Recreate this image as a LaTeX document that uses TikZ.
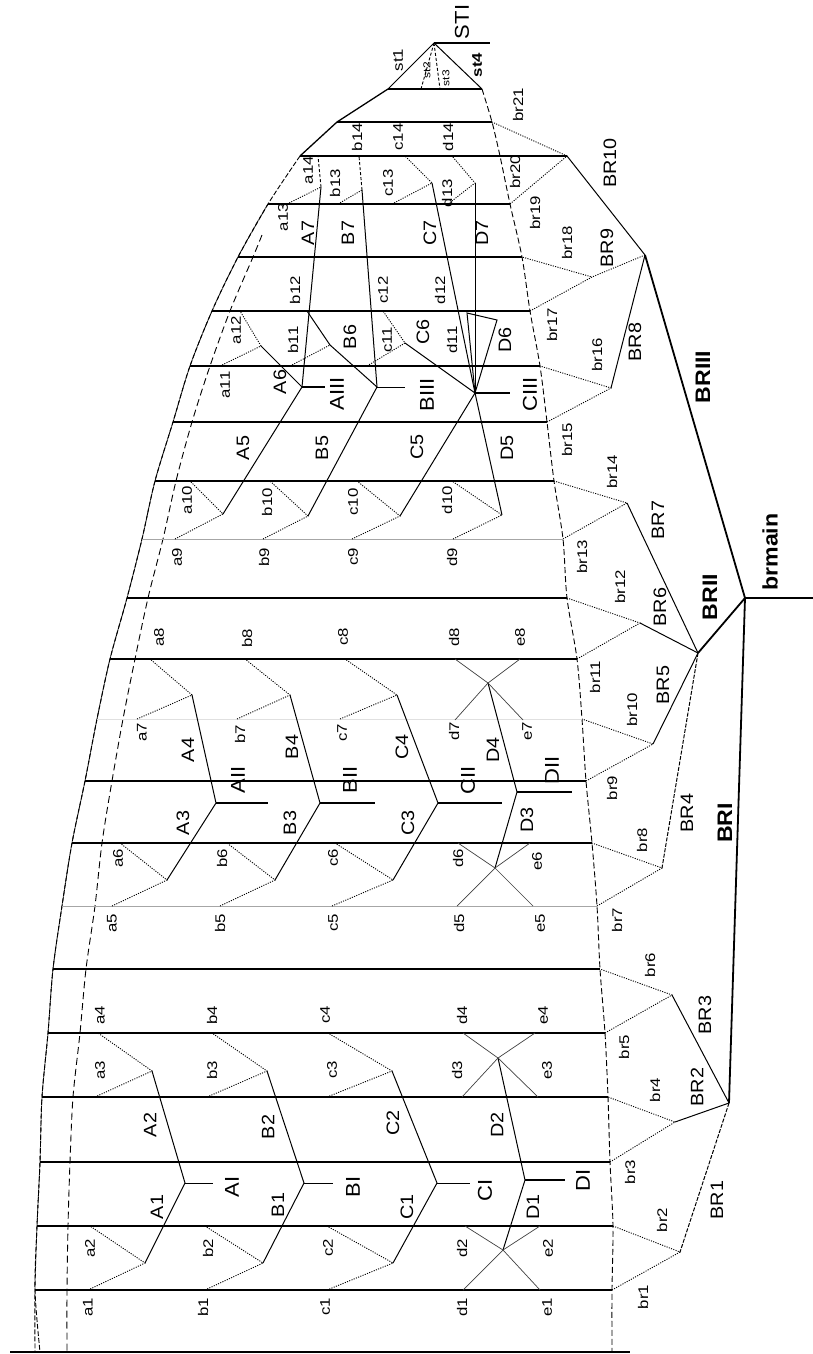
\documentclass[tikz,border=0pt]{standalone}
\usepackage{fontspec}
\setmainfont{Liberation Sans}
\usepackage{graphicx}
\newcommand\labS[3]{\node[sl] (#1) at (#2) {\scalebox{1.2}[1]{#3}};}
\newcommand\labT[3]{\node[tl] (#1) at (#2) {\scalebox{1.2}[1]{#3}};}
\newcommand\labM[3]{\node[ml] (#1) at (#2) {\scalebox{1.1}[1]{#3}};}
\newcommand\labR[3]{\node[rl] (#1) at (#2) {\scalebox{1.1}[1]{#3}};}
\newcommand\labB[3]{\node[bl] (#1) at (#2) {\scalebox{1.1}[1]{#3}};}
\begin{document}
\begin{tikzpicture}[x=1pt,y=-1pt,
  row/.style={line width=1.2pt},
  rowlight/.style={line width=0.9pt,black!35},
  rowfaint/.style={line width=0.8pt,black!12},
  limb/.style={line width=1pt},
  heavy/.style={line width=1.8pt},
  twig/.style={line width=0.9pt,dash pattern=on 1.1pt off 1.3pt},
  twigdash/.style={line width=0.9pt,dash pattern=on 3pt off 2pt},
  cross/.style={line width=0.7pt,black!75},
  stem/.style={line width=2.6pt},
  thinstem/.style={line width=1pt},
  outline/.style={line width=0.9pt,dash pattern=on 5pt off 2pt},
  inline/.style={line width=0.9pt,dash pattern=on 7pt off 4pt},
  rline/.style={line width=0.9pt,dash pattern=on 6pt off 3pt},
  sl/.style={rotate=90,inner sep=0pt,font=\fontsize{14}{14}\selectfont},
  tl/.style={rotate=90,inner sep=0pt,font=\fontsize{10}{10}\selectfont},
  ml/.style={rotate=90,inner sep=0pt,font=\fontsize{18}{18}\selectfont},
  rl/.style={rotate=90,inner sep=0pt,font=\fontsize{20}{20}\selectfont},
  bl/.style={rotate=90,inner sep=0pt,font=\bfseries\fontsize{21}{21}\selectfont},
]
\useasboundingbox (0,0) rectangle (813,1354);
% ---------- row end points ----------
\coordinate (Bl) at (10,1352); \coordinate (Br) at (630,1352);
\coordinate (L2) at (35,1290);  \coordinate (R2) at (612,1290);
\coordinate (L3) at (37,1226);  \coordinate (R3) at (613,1226);
\coordinate (L4) at (40,1162);  \coordinate (R4) at (610,1162);
\coordinate (L5) at (42,1097);  \coordinate (R5) at (608,1097);
\coordinate (L6) at (48,1033);  \coordinate (R6) at (605,1033);
\coordinate (L7) at (53,969);   \coordinate (R7) at (600,969);
\coordinate (L8) at (62,906);   \coordinate (R8) at (597,906);
\coordinate (L9) at (72,843);   \coordinate (R9) at (592,843);
\coordinate (L10) at (85,781);  \coordinate (R10) at (586,781);
\coordinate (L11) at (97,719);  \coordinate (R11) at (582,719);
\coordinate (L12) at (110,659); \coordinate (R12) at (577,659);
\coordinate (L13) at (127,598); \coordinate (R13) at (567,598);
\coordinate (L14) at (142,539); \coordinate (R14) at (563,539);
\coordinate (L15) at (155,481); \coordinate (R15) at (554,481);
\coordinate (L16) at (173,422); \coordinate (R16) at (547,422);
\coordinate (L17) at (190,366); \coordinate (R17) at (540,366);
\coordinate (L18) at (212,311); \coordinate (R18) at (530,311);
\coordinate (L19) at (238,257); \coordinate (R19) at (522,257);
\coordinate (L20) at (268,204); \coordinate (R20) at (510,204);
\coordinate (L21) at (300,156); \coordinate (R21) at (500,156);
\coordinate (L22) at (337,122); \coordinate (R22) at (492,122);
\coordinate (L23) at (388,89);  \coordinate (R23) at (482,89);
% ---------- outlines ----------
\draw[outline] plot[smooth] coordinates {(L21) (L20) (L19) (L18) (L17) (L16) (L15) (L14) (L13) (L12) (L11) (L10) (L9) (L8) (L7) (L6) (L5) (L4) (L3) (L2) (35,1352)};
\draw[outline,xshift=5pt] plot[smooth] coordinates {(L20) (L19) (L18) (L17) (L16) (L15) (L14) (L13) (L12) (L11) (L10) (L9) (L8) (L7) (L6) (L5) (L4) (L3) (L2) (35,1352)};
\draw[inline] plot[smooth] coordinates {(262,235) (253,257) (230,311) (210,366) (192,422) (176,481) (163,539) (148,598) (135,659) (123,719) (112,781) (102,843) (95,906) (86,969) (80,1033) (73,1097) (70,1162) (68,1226) (67,1290) (67,1352)};
\draw[rline] plot[smooth] coordinates {(R23) (R22) (R21) (R20) (R19) (R18) (R17) (R16) (R15) (R14) (R13) (R12) (R11) (R10) (R9) (R8) (R7) (R6) (R5) (R4) (R3) (R2) (612,1352)};
% ---------- rows ----------
\draw[row] (Bl) -- (Br);
\foreach \k in {2,3,4,5,6,7,9,10,12,13,15,16,17,18,19,20,22,23} \draw[row] (L\k) -- (R\k);
\draw[rowlight] (L8) -- (R8);
\draw[rowlight] (L14) -- (R14);
\draw[rowfaint] (L11) -- (R11);
% ---------- st ----------
\coordinate (T) at (434,43); \coordinate (STe) at (490,43);
\coordinate (st2p) at (421,89); \coordinate (st3p) at (440,89);
\draw[line width=1.3pt] (L21) -- (L22) -- (L23);
\draw[limb] (L23) -- (T);
\draw[twigdash] (T) -- (st2p);
\draw[twigdash] (T) -- (st3p);
\draw[limb] (T) -- (R23);
\draw[stem] (T) -- (STe);
% ---------- group I ----------
\coordinate (AIj) at (185,1183); \coordinate (AIe) at (213,1183);
\coordinate (A1n) at (145,1263); \coordinate (A2n) at (152,1071);
\coordinate (a1p) at (88,1290); \coordinate (a2p) at (90,1226);
\coordinate (a3p) at (95,1097); \coordinate (a4p) at (98,1033);
\coordinate (BIj) at (304,1183); \coordinate (BIe) at (333,1183);
\coordinate (B1n) at (263,1263); \coordinate (B2n) at (267,1071);
\coordinate (b1p) at (205,1290); \coordinate (b2p) at (205,1226);
\coordinate (b3p) at (207,1097); \coordinate (b4p) at (212,1033);
\coordinate (CIj) at (437,1183); \coordinate (CIe) at (470,1183);
\coordinate (C1n) at (393,1263); \coordinate (C2n) at (392,1071);
\coordinate (c1p) at (327,1290); \coordinate (c2p) at (327,1226);
\coordinate (c3p) at (327,1097); \coordinate (c4p) at (328,1033);
\coordinate (DIj) at (525,1180); \coordinate (DIe) at (565,1180);
\coordinate (D1n) at (503,1250); \coordinate (D2n) at (498,1058);
\coordinate (d1p) at (463,1290); \coordinate (e1p) at (540,1290);
\coordinate (d2p) at (465,1226); \coordinate (e2p) at (540,1226);
\coordinate (d3p) at (462,1097); \coordinate (e3p) at (538,1097);
\coordinate (d4p) at (463,1033); \coordinate (e4p) at (535,1033);
\draw[limb] (A1n) -- (AIj) -- (A2n); \draw[thinstem] (AIj) -- (AIe);
\draw[twig] (a1p) -- (A1n) -- (a2p); \draw[twig] (a3p) -- (A2n) -- (a4p);
\draw[limb] (B1n) -- (BIj) -- (B2n); \draw[thinstem] (BIj) -- (BIe);
\draw[twig] (b1p) -- (B1n) -- (b2p); \draw[twig] (b3p) -- (B2n) -- (b4p);
\draw[limb] (C1n) -- (CIj) -- (C2n); \draw[thinstem] (CIj) -- (CIe);
\draw[twig] (c1p) -- (C1n) -- (c2p); \draw[twig] (c3p) -- (C2n) -- (c4p);
\draw[limb] (D1n) -- (DIj) -- (D2n); \draw[stem] (DIj) -- (DIe);
\draw[cross] (d1p) -- (D1n) -- (e2p); \draw[cross] (e1p) -- (D1n) -- (d2p);
\draw[cross] (d3p) -- (D2n) -- (e4p); \draw[cross] (e3p) -- (D2n) -- (d4p);
% ---------- group II ----------
\coordinate (AIIj) at (216,803); \coordinate (AIIe) at (268,803);
\coordinate (A3n) at (167,880); \coordinate (A4n) at (192,695);
\coordinate (a5p) at (112,906); \coordinate (a6p) at (120,843);
\coordinate (a7p) at (137,719); \coordinate (a8p) at (150,659);
\coordinate (BIIj) at (320,803); \coordinate (BIIe) at (375,803);
\coordinate (B3n) at (275,880); \coordinate (B4n) at (290,695);
\coordinate (b5p) at (220,906); \coordinate (b6p) at (227,843);
\coordinate (b7p) at (237,719); \coordinate (b8p) at (245,659);
\coordinate (CIIj) at (438,803); \coordinate (CIIe) at (502,803);
\coordinate (C3n) at (393,880); \coordinate (C4n) at (397,695);
\coordinate (c5p) at (332,906); \coordinate (c6p) at (335,843);
\coordinate (c7p) at (340,719); \coordinate (c8p) at (345,659);
\coordinate (DIIj) at (517,792); \coordinate (DIIe) at (572,792);
\coordinate (D3n) at (495,868); \coordinate (D4n) at (488,683);
\coordinate (d5p) at (457,906); \coordinate (e5p) at (533,906);
\coordinate (d6p) at (458,843); \coordinate (e6p) at (530,843);
\coordinate (d7p) at (455,720); \coordinate (e7p) at (523,720);
\coordinate (d8p) at (455,659); \coordinate (e8p) at (520,659);
\draw[limb] (A3n) -- (AIIj) -- (A4n); \draw[stem] (AIIj) -- (AIIe);
\draw[twig] (a5p) -- (A3n) -- (a6p); \draw[twig] (a7p) -- (A4n) -- (a8p);
\draw[limb] (B3n) -- (BIIj) -- (B4n); \draw[stem] (BIIj) -- (BIIe);
\draw[twig] (b5p) -- (B3n) -- (b6p); \draw[twig] (b7p) -- (B4n) -- (b8p);
\draw[limb] (C3n) -- (CIIj) -- (C4n); \draw[stem] (CIIj) -- (CIIe);
\draw[twig] (c5p) -- (C3n) -- (c6p); \draw[twig] (c7p) -- (C4n) -- (c8p);
\draw[limb] (D3n) -- (DIIj) -- (D4n); \draw[stem] (DIIj) -- (DIIe);
\draw[cross] (d5p) -- (D3n) -- (e6p); \draw[cross] (e5p) -- (D3n) -- (d6p);
\draw[cross] (d7p) -- (D4n) -- (e8p); \draw[cross] (e7p) -- (D4n) -- (d8p);
% ---------- group III ----------
\coordinate (AIIIj) at (302,387); \coordinate (AIIIe) at (325,387);
\coordinate (A5n) at (223,514); \coordinate (A6n) at (261,346); \coordinate (A7n) at (321,187);
\coordinate (a9p) at (175,539); \coordinate (a10p) at (190,481);
\coordinate (a11p) at (220,366); \coordinate (a12p) at (240,311);
\coordinate (a13p) at (287,204); \coordinate (a14p) at (318,156);
\coordinate (BIIIj) at (377,387); \coordinate (BIIIe) at (405,387);
\coordinate (B5n) at (308,516); \coordinate (B6n) at (330,345); \coordinate (B7n) at (362,190);
\coordinate (b9p) at (263,539); \coordinate (b10p) at (270,481);
\coordinate (b11p) at (290,366); \coordinate (b12p) at (307,311);
\coordinate (b13p) at (338,204); \coordinate (b14p) at (359,156);
\coordinate (CIIIj) at (475,393); \coordinate (CIIIe) at (510,393);
\coordinate (C5n) at (400,516); \coordinate (C6n) at (405,343); \coordinate (C7n) at (432,183);
\coordinate (c9p) at (352,539); \coordinate (c10p) at (357,481);
\coordinate (c11p) at (367,366); \coordinate (c12p) at (383,311);
\coordinate (c13p) at (392,204); \coordinate (c14p) at (405,156);
\coordinate (D5n) at (502,515); \coordinate (D6a) at (467,313); \coordinate (D6b) at (497,320);
\coordinate (D7n) at (475,183);
\coordinate (d9p) at (453,539); \coordinate (d10p) at (452,481);
\coordinate (d13p) at (448,204); \coordinate (d14p) at (452,156);
\draw[limb] (A5n) -- (AIIIj) -- (A6n); \draw[limb] (AIIIj) -- (A7n); \draw[stem] (AIIIj) -- (AIIIe);
\draw[twig] (a9p) -- (A5n) -- (a10p); \draw[twig] (a11p) -- (A6n) -- (a12p);
\draw[twig] (a13p) -- (A7n); \draw[twigdash] (A7n) -- (a14p);
\draw[limb] (B5n) -- (BIIIj) -- (B6n) -- (b12p); \draw[limb] (BIIIj) -- (B7n); \draw[thinstem] (BIIIj) -- (BIIIe);
\draw[twig] (b9p) -- (B5n) -- (b10p); \draw[twig] (b11p) -- (B6n);
\draw[twig] (b13p) -- (B7n); \draw[twigdash] (B7n) -- (b14p);
\draw[limb] (C5n) -- (CIIIj) -- (C6n); \draw[limb] (CIIIj) -- (C7n); \draw[stem] (CIIIj) -- (CIIIe);
\draw[twig] (c9p) -- (C5n) -- (c10p); \draw[twig] (c11p) -- (C6n) -- (c12p);
\draw[twig] (c13p) -- (C7n) -- (c14p);
\draw[limb] (D5n) -- (CIIIj) -- (D6a) -- (D6b) -- (CIIIj); \draw[limb] (CIIIj) -- (D7n);
\draw[twig] (d9p) -- (D5n) -- (d10p); \draw[twig] (d13p) -- (D7n) -- (d14p);
% ---------- br structure ----------
\coordinate (BM) at (745,598); \coordinate (BMe) at (813,598);
\coordinate (BRIIj) at (698,653); \coordinate (BRIj) at (729,1103); \coordinate (BR9j) at (645,255);
\coordinate (BR1n) at (680,1252); \coordinate (BR2n) at (675,1122); \coordinate (BR3n) at (672,995);
\coordinate (BR4n) at (662,868); \coordinate (BR5n) at (653,744); \coordinate (BR6n) at (640,623);
\coordinate (BR7n) at (627,503); \coordinate (BR8n) at (611,388); \coordinate (BR9n) at (592,277);
\coordinate (BR10n) at (567,156);
\draw[row] (L21) -- (BR10n);
\draw[stem] (BM) -- (BMe);
\draw[heavy] (BM) -- (BR9j);
\draw[heavy] (BM) -- (BRIIj);
\draw[heavy] (BM) -- (BRIj);
\draw[limb,dash pattern=on 4pt off 1.5pt] (BRIj) -- (BR1n);
\draw[limb] (BRIj) -- (BR2n);
\draw[limb] (BRIj) -- (BR3n);
\draw[limb,dash pattern=on 4pt off 1.5pt] (BRIIj) -- (BR4n);
\draw[limb] (BRIIj) -- (BR5n);
\draw[limb] (BRIIj) -- (BR6n);
\draw[limb] (BRIIj) -- (BR7n);
\draw[limb] (BR9j) -- (BR8n);
\draw[twig] (BR9j) -- (BR9n);
\draw[limb] (BR9j) -- (BR10n);
\draw[twig] (R2) -- (BR1n) -- (R3);
\draw[twig] (R4) -- (BR2n) -- (R5);
\draw[twig] (R6) -- (BR3n) -- (R7);
\draw[twig] (R8) -- (BR4n) -- (R9);
\draw[twig] (R10) -- (BR5n) -- (R11);
\draw[twig] (R12) -- (BR6n) -- (R13);
\draw[twig] (R14) -- (BR7n) -- (R15);
\draw[twig] (R16) -- (BR8n) -- (R17);
\draw[twig] (R18) -- (BR9n) -- (R19);
\draw[twig] (R20) -- (BR10n) -- (R22);
% ---------- labels: small ----------
\labS{la1}{88,1307}{a1} \labS{lb1}{203,1307}{b1} \labS{lc1}{325,1307}{c1} \labS{ld1}{462,1307}{d1} \labS{le1}{547,1307}{e1}
\labS{la2}{90,1248}{a2} \labS{lb2}{208,1248}{b2} \labS{lc2}{328,1248}{c2} \labS{ld2}{462,1248}{d2} \labS{le2}{548,1248}{e2}
\labS{la3}{100,1070}{a3} \labS{lb3}{212,1070}{b3} \labS{lc3}{332,1070}{c3} \labS{ld3}{457,1070}{d3} \labS{le3}{547,1070}{e3}
\labS{la4}{100,1015}{a4} \labS{lb4}{212,1015}{b4} \labS{lc4}{325,1015}{c4} \labS{ld4}{462,1015}{d4} \labS{le4}{543,1015}{e4}
\labS{la5}{112,923}{a5} \labS{lb5}{220,923}{b5} \labS{lc5}{333,923}{c5} \labS{ld5}{459,923}{d5} \labS{le5}{540,923}{e5}
\labS{la6}{118,858}{a6} \labS{lb6}{222,858}{b6} \labS{lc6}{333,858}{c6} \labS{ld6}{458,858}{d6} \labS{le6}{537,861}{e6}
\labS{la7}{142,732}{a7} \labS{lb7}{240,734}{b7} \labS{lc7}{342,733}{c7} \labS{ld7}{454,731}{d7} \labS{le7}{527,731}{e7}
\labS{la8}{159,637}{a8} \labS{lb8}{247,638}{b8} \labS{lc8}{343,637}{c8} \labS{ld8}{454,637}{d8} \labS{le8}{520,637}{e8}
\labS{la9}{177,557}{a9} \labS{lb9}{264,557}{b9} \labS{lc9}{353,557}{c9} \labS{ld9}{452,557}{d9}
\labS{la10}{187,500}{a10} \labS{lb10}{267,502}{b10} \labS{lc10}{353,502}{c10} \labS{ld10}{447,500}{d10}
\labS{la11}{225,385}{a11} \labS{lb11}{293,340}{b11} \labS{lc11}{387,340}{c11} \labS{ld11}{452,340}{d11}
\labS{la12}{236,330}{a12} \labS{lb12}{295,290}{b12} \labS{lc12}{383,290}{c12} \labS{ld12}{440,290}{d12}
\labS{la13}{283,217}{a13} \labS{lb13}{335,183}{b13} \labS{lc13}{388,183}{c13} \labS{ld13}{447,193}{d13}
\labS{la14}{308,170}{a14} \labS{lb14}{357,137}{b14} \labS{lc14}{398,137}{c14} \labS{ld14}{448,137}{d14}
\labS{lst1}{398,60}{st1} \labT{lst2}{427,70}{st2} \labT{lst3}{446,78}{st3} \labS{lst4}{477,65}{\bfseries st4}
% br labels
\labS{lbr1}{643,1297}{br1} \labS{lbr2}{662,1220}{br2} \labS{lbr3}{630,1172}{br3} \labS{lbr4}{655,1090}{br4}
\labS{lbr5}{624,1047}{br5} \labS{lbr6}{650,965}{br6} \labS{lbr7}{617,920}{br7} \labS{lbr8}{642,840}{br8}
\labS{lbr9}{612,788}{br9} \labS{lbr10}{632,710}{br10} \labS{lbr11}{595,677}{br11} \labS{lbr12}{620,587}{br12}
\labS{lbr13}{582,557}{br13} \labS{lbr14}{612,472}{br14} \labS{lbr15}{567,440}{br15} \labS{lbr16}{597,355}{br16}
\labS{lbr17}{552,325}{br17} \labS{lbr18}{567,243}{br18} \labS{lbr19}{535,213}{br19} \labS{lbr20}{515,172}{br20}
\labS{lbr21}{518,105}{br21}
% ---------- labels: capitals ----------
\labM{lA1}{157,1207}{A1} \labM{lA2}{150,1125}{A2} \labM{lB1}{278,1205}{B1} \labM{lB2}{268,1127}{B2}
\labM{lC1}{407,1207}{C1} \labM{lC2}{393,1123}{C2} \labM{lD1}{533,1207}{D1} \labM{lD2}{497,1125}{D2}
\labM{lA3}{183,823}{A3} \labM{lA4}{188,750}{A4} \labM{lB3}{290,823}{B3} \labM{lB4}{292,747}{B4}
\labM{lC3}{408,823}{C3} \labM{lC4}{402,747}{C4} \labM{lD3}{527,820}{D3} \labM{lD4}{493,750}{D4}
\labM{lA5}{243,448}{A5} \labM{lA6}{280,382}{A6} \labM{lA7}{308,233}{A7}
\labM{lB5}{322,448}{B5} \labM{lB6}{350,337}{B6} \labM{lB7}{348,233}{B7}
\labM{lC5}{417,447}{C5} \labM{lC6}{423,332}{C6} \labM{lC7}{430,233}{C7}
\labM{lD5}{507,448}{D5} \labM{lD6}{505,340}{D6} \labM{lD7}{482,233}{D7}
\labM{lBR1}{717,1200}{BR1} \labM{lBR2}{697,1087}{BR2} \labM{lBR3}{705,1015}{BR3} \labM{lBR4}{687,813}{BR4}
\labM{lBR5}{663,685}{BR5} \labM{lBR6}{660,607}{BR6} \labM{lBR7}{658,520}{BR7} \labM{lBR8}{635,342}{BR8}
\labM{lBR9}{607,248}{BR9} \labM{lBR10}{610,163}{BR10}
% ---------- labels: roman ----------
\labR{lAI}{232,1187}{AI} \labR{lBI}{353,1187}{BI} \labR{lCI}{485,1190}{CI} \labR{lDI}{583,1180}{DI}
\labR{lAII}{238,780}{AII} \labR{lBII}{350,780}{BII} \labR{lCII}{468,780}{CII} \labR{lDII}{552,770}{DII}
\labR{lAIII}{337,394}{AIII} \labR{lBIII}{427,395}{BIII} \labR{lCIII}{530,394}{CIII}
\labR{lSTI}{462,22}{STI}
\labB{lBRI}{725,823}{BRI} \labB{lBRII}{710,597}{BRII} \labB{lBRIII}{703,377}{BRIII} \labB{lbrmain}{770,552}{brmain}
\end{tikzpicture}
\end{document}
